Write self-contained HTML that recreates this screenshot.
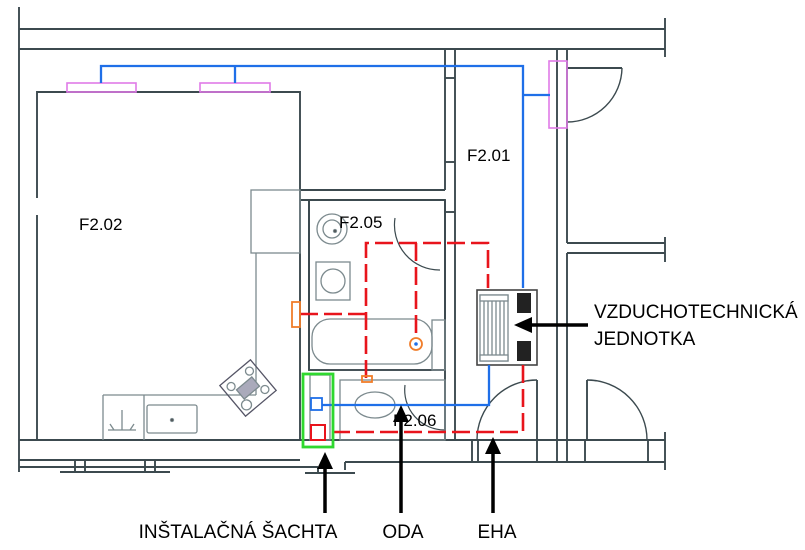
<!DOCTYPE html>
<html><head><meta charset="utf-8"><style>html,body{margin:0;padding:0;background:#fff;}svg{display:block;}</style></head>
<body>
<svg width="805" height="550" viewBox="0 0 805 550" xmlns="http://www.w3.org/2000/svg" font-family="Liberation Sans, sans-serif">
<g stroke="#3c4a4f" stroke-width="1.9" fill="none">
  <line x1="19" y1="7" x2="19" y2="472"/>
  <line x1="19" y1="29" x2="665" y2="29"/>
  <line x1="19" y1="49" x2="665" y2="49"/>
  <line x1="665" y1="18" x2="665" y2="57"/>
  <polyline points="37,198 37,92 300,92 300,190"/>
  <line x1="37" y1="215" x2="37" y2="440"/>
  <line x1="445" y1="49" x2="445" y2="190"/>
  <line x1="455" y1="49" x2="455" y2="440"/>
  <line x1="445" y1="200" x2="445" y2="440"/>
  <line x1="300" y1="190" x2="445" y2="190"/>
  <line x1="300" y1="200" x2="445" y2="200"/>
  <line x1="300" y1="190" x2="300" y2="440"/>
  <line x1="309" y1="200" x2="309" y2="370"/>
  <rect x="309" y="200" width="136" height="170"/>
  <line x1="445" y1="78" x2="455" y2="78"/>
  <line x1="445" y1="162" x2="455" y2="162"/>
  <line x1="445" y1="212" x2="455" y2="212"/>
  <line x1="557" y1="49" x2="557" y2="440"/>
  <line x1="567" y1="49" x2="567" y2="243"/>
  <line x1="567" y1="253" x2="567" y2="440"/>
  <line x1="567" y1="243" x2="665" y2="243"/>
  <line x1="567" y1="253" x2="665" y2="253"/>
  <line x1="665" y1="237" x2="665" y2="262"/>
  <line x1="665" y1="432" x2="665" y2="470"/>
  <line x1="567" y1="68" x2="622" y2="68"/>
  <path d="M622,68 A55,55 0 0 1 567,122" stroke-width="1.4"/>
  <path d="M395,218 A45,45 0 0 0 440,270" stroke-width="1.2"/>
  <path d="M405,385 A40,40 0 0 0 445,430" stroke-width="1.2"/>
  <path d="M537,380 A60,60 0 0 0 477,440" stroke-width="1.4"/>
  <line x1="537" y1="380" x2="537" y2="440"/>
  <path d="M587,380 A60,60 0 0 1 647,440" stroke-width="1.4"/>
  <line x1="587" y1="380" x2="587" y2="440"/>
  <line x1="19" y1="440" x2="665" y2="440"/>
  <line x1="19" y1="460" x2="300" y2="460"/>
  <line x1="345" y1="462" x2="665" y2="462"/>
  <line x1="345" y1="462" x2="345" y2="470"/>
  <line x1="19" y1="467" x2="318" y2="467"/>
  <line x1="318" y1="467" x2="318" y2="473"/>
  <line x1="305" y1="473" x2="355" y2="473"/>
  <line x1="60" y1="472" x2="170" y2="472"/>
  <line x1="75" y1="460" x2="75" y2="472"/><line x1="85" y1="460" x2="85" y2="472"/>
  <line x1="145" y1="460" x2="145" y2="472"/><line x1="155" y1="460" x2="155" y2="472"/>
  <line x1="472" y1="440" x2="472" y2="462"/><line x1="478" y1="440" x2="478" y2="462"/>
  <line x1="537" y1="440" x2="537" y2="462"/>
  <line x1="557" y1="440" x2="557" y2="462"/><line x1="567" y1="440" x2="567" y2="462"/>
  <line x1="585" y1="440" x2="585" y2="462"/><line x1="648" y1="440" x2="648" y2="462"/>
</g>
<g stroke="#7c8a8e" stroke-width="1.3" fill="none">
  <rect x="251" y="190" width="49" height="63"/>
  <line x1="256" y1="253" x2="256" y2="395"/>
  <line x1="256" y1="395" x2="103" y2="395"/>
  <line x1="103" y1="395" x2="103" y2="440"/>
  <line x1="144" y1="395" x2="144" y2="440"/>
  <rect x="147" y="405" width="50" height="28" rx="2"/>
  <circle cx="172" cy="420" r="1.5" fill="#333"/>
  <path d="M108,430 L122,430 L122,410 M122,430 L136,430 M110,424 L114,430 M134,424 L130,430"/>
  <g transform="translate(248,388) rotate(-40)">
    <rect x="-20" y="-20" width="40" height="40" stroke="#556"/>
    <rect x="-10" y="-6" width="20" height="12" fill="#aab"/>
    <circle cx="-12" cy="-12" r="4"/><circle cx="12" cy="-12" r="4"/><circle cx="-12" cy="12" r="5"/><circle cx="12" cy="12" r="4"/>
  </g>
  <ellipse cx="332" cy="229" rx="15" ry="15"/><circle cx="332" cy="229" r="9"/><circle cx="335" cy="231" r="1.5" fill="#333"/>
  <rect x="316" y="262" width="34" height="38"/><circle cx="333" cy="281" r="12"/>
  <rect x="312" y="319" width="120" height="45" rx="18"/>
  <rect x="432" y="320" width="13" height="50"/>
  <rect x="340" y="380" width="105" height="60"/>
  <ellipse cx="375" cy="405" rx="20" ry="13"/>
  <rect x="310" y="375" width="20" height="65"/>
  <rect x="477" y="290" width="60" height="75" stroke="#444" stroke-width="1.6"/>
  <rect x="480" y="295" width="28" height="66"/>
  <path d="M484,300 V356 M488,300 V356 M492,300 V356 M496,300 V356 M500,300 V356 M504,300 V356"/>
  <rect x="480" y="295" width="28" height="6" fill="#fff"/><rect x="480" y="355" width="28" height="6" fill="#fff"/>
</g>
<rect x="517" y="293" width="14" height="20" fill="#222"/>
<rect x="517" y="341" width="14" height="20" fill="#222"/>
<g stroke="#e07be8" stroke-width="1.6" fill="none">
  <rect x="67" y="83" width="69" height="9"/>
  <rect x="200" y="83" width="70" height="9"/>
  <rect x="549" y="61" width="18" height="67"/>
</g>
<g stroke="#1f6fe8" stroke-width="2.3" fill="none">
  <polyline points="101,83 101,66 523,66 523,288"/>
  <line x1="235" y1="66" x2="235" y2="83"/>
  <line x1="523" y1="95" x2="550" y2="95"/>
  <polyline points="489,365 489,405 322,405"/>
  <rect x="311" y="398" width="11" height="12" stroke-width="1.8"/>
</g>
<g stroke="#e8141c" stroke-width="2.6" fill="none" stroke-dasharray="18,6">
  <polyline points="366,378 366,243 488,243 488,288"/>
  <line x1="416" y1="243" x2="416" y2="338"/>
  <line x1="300" y1="314" x2="366" y2="314"/>
  <polyline points="523,365 523,432 326,432"/>
</g>
<rect x="311" y="425" width="14" height="15" stroke="#e8141c" stroke-width="2" fill="none"/>
<g stroke="#f07d2a" stroke-width="1.8" fill="none">
  <rect x="292" y="302" width="8" height="25"/>
  <rect x="362" y="376" width="10" height="6"/>
  <circle cx="416" cy="344" r="6"/>
</g>
<circle cx="416" cy="344" r="1.8" fill="#1f6fe8"/>
<rect x="303" y="374" width="30" height="73" stroke="#2fd82f" stroke-width="2.8" fill="none"/>
<g font-size="17" fill="#000">
  <text x="79" y="230">F2.02</text>
  <text x="467" y="161">F2.01</text>
  <text x="339" y="228">F2.05</text>
  <text x="393" y="426">F2.06</text>
</g>
<g font-size="19" fill="#000">
  <text x="594" y="318">VZDUCHOTECHNICKÁ</text>
  <text x="594" y="345">JEDNOTKA</text>
  <text x="238" y="538" text-anchor="middle">INŠTALAČNÁ ŠACHTA</text>
  <text x="403" y="538" text-anchor="middle">ODA</text>
  <text x="497" y="538" text-anchor="middle">EHA</text>
</g>
<g stroke="#000" stroke-width="3.5">
  <line x1="588" y1="325" x2="530" y2="325"/>
  <line x1="325" y1="468" x2="325" y2="513"/>
  <line x1="401" y1="420" x2="401" y2="513"/>
  <line x1="493" y1="452" x2="493" y2="513"/>
</g>
<g fill="#000">
  <polygon points="514,325 532,317 532,333"/>
  <polygon points="325,452 317,469 333,469"/>
  <polygon points="401,405 393,422 409,422"/>
  <polygon points="493,437 485,454 501,454"/>
</g>
</svg>
</body></html>
